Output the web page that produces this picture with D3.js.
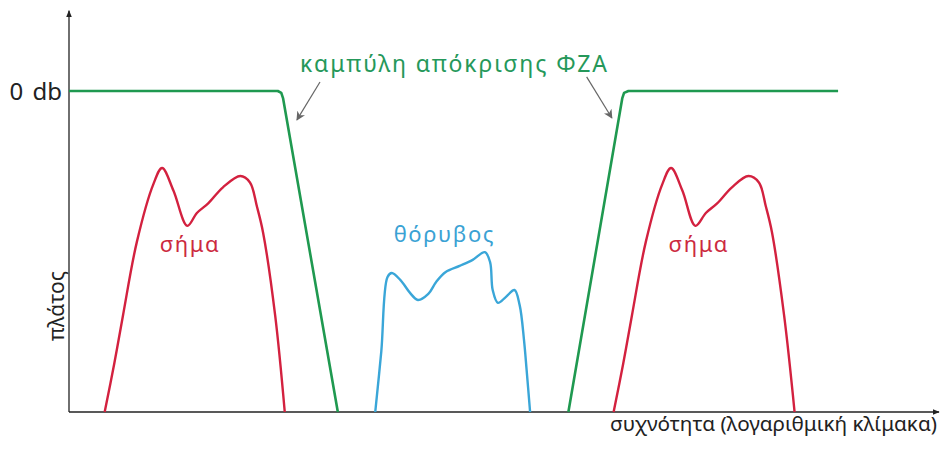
<!DOCTYPE html>
<html>
<head>
<meta charset="utf-8">
<script src="https://cdn.jsdelivr.net/npm/d3@7"></script>
<style>
  body { margin: 0; background: #fff; }
  text { font-family: "Noto Sans", sans-serif; }
</style>
</head>
<body>
<div id="chart"></div>
<script>
// frequency (log scale, arbitrary units 0-100) vs amplitude (1 = 0 db)
var responseLow = [[0, 1], [24.0, 1], [24.4, 0.994], [24.6, 0.978], [30.9, 0]];
var responseHigh = [[57.4, 0], [63.6, 0.978], [63.8, 0.994], [64.3, 1], [88.4, 1]];

var signalLow = [[4.1, 0], [5.2, 0.15], [6.2, 0.30], [7.8, 0.53], [9.7, 0.71], [10.7, 0.76],
  [12.0, 0.69], [13.6, 0.58], [14.7, 0.62], [16.0, 0.65], [17.7, 0.70], [19.7, 0.735],
  [20.8, 0.715], [21.6, 0.64], [22.3, 0.56], [23.7, 0.30], [24.8, 0]];
var signalHigh = [[62.6, 0], [63.7, 0.15], [64.7, 0.30], [66.3, 0.53], [68.2, 0.71], [69.2, 0.76],
  [70.5, 0.69], [72.0, 0.58], [73.2, 0.62], [74.5, 0.65], [76.2, 0.70], [78.1, 0.735],
  [79.3, 0.715], [80.1, 0.64], [80.8, 0.56], [82.2, 0.30], [83.4, 0]];

var noise = [[35.2, 0], [35.9, 0.19], [36.6, 0.42], [37.1, 0.433], [38.1, 0.411], [39.2, 0.371],
  [40.1, 0.349], [41.3, 0.368], [42.2, 0.405], [43.3, 0.436], [44.9, 0.455], [46.4, 0.474],
  [47.8, 0.498], [48.4, 0.467], [48.7, 0.38], [49.3, 0.34], [50.2, 0.358], [51.2, 0.38],
  [51.8, 0.333], [52.3, 0.224], [52.6, 0.131], [53.0, 0]];

var yTicks = [1];
var yTickLabels = ["0 db"];

var width = 941, height = 450;
var margin = { top: 10, right: 2, bottom: 38, left: 69 };

var svg = d3.select("#chart").append("svg")
  .attr("width", width)
  .attr("height", height);

var defs = svg.append("defs");
defs.append("marker").attr("id", "axisArrow")
  .attr("viewBox", "0 0 10 10").attr("refX", 9).attr("refY", 5)
  .attr("markerWidth", 7).attr("markerHeight", 7).attr("markerUnits", "userSpaceOnUse")
  .attr("orient", "auto")
  .append("path").attr("d", "M0,1 L10,5 L0,9 Z").attr("fill", "#222");
defs.append("marker").attr("id", "noteArrow")
  .attr("viewBox", "0 0 10 10").attr("refX", 9).attr("refY", 5)
  .attr("markerWidth", 9).attr("markerHeight", 9).attr("markerUnits", "userSpaceOnUse")
  .attr("orient", "auto")
  .append("path").attr("d", "M0,0 L10,5 L0,10 L3,5 Z").attr("fill", "#666");

var x = d3.scaleLinear().domain([0, 100]).range([margin.left, 939]);
var y = d3.scaleLinear().domain([0, 1]).range([412, 91]);

// axes
var yAxis = d3.axisLeft(y).tickValues(yTicks).tickSize(0).tickPadding(7)
  .tickFormat(function (d, i) { return yTickLabels[i]; });
var gy = svg.append("g").attr("transform", "translate(" + x(0) + ",0)").call(yAxis);
gy.select(".domain").remove();
gy.selectAll("text")
  .attr("font-family", "DejaVu Serif, serif")
  .attr("font-size", 24)
  .attr("word-spacing", 3)
  .attr("fill", "#222")
  .attr("dy", "0.36em");

svg.append("line")
  .attr("x1", x(0)).attr("y1", y(0))
  .attr("x2", x(0)).attr("y2", y(1.25))
  .attr("stroke", "#222").attr("stroke-width", 1.3)
  .attr("marker-end", "url(#axisArrow)");
svg.append("line")
  .attr("x1", x(0)).attr("y1", y(0))
  .attr("x2", x(100)).attr("y2", y(0))
  .attr("stroke", "#222").attr("stroke-width", 1.3)
  .attr("marker-end", "url(#axisArrow)");

// curves
var straight = d3.line().x(function (d) { return x(d[0]); }).y(function (d) { return y(d[1]); });
var smooth = d3.line().x(function (d) { return x(d[0]); }).y(function (d) { return y(d[1]); })
  .curve(d3.curveCatmullRom.alpha(0.5));

var green = "#1f9950", red = "#d3213f", blue = "#3aa6d8";

[responseLow, responseHigh].forEach(function (s) {
  svg.append("path").datum(s).attr("d", straight)
    .attr("fill", "none").attr("stroke", green).attr("stroke-width", 2.6)
    .attr("stroke-linejoin", "round");
});
[signalLow, signalHigh].forEach(function (s) {
  svg.append("path").datum(s).attr("d", smooth)
    .attr("fill", "none").attr("stroke", red).attr("stroke-width", 2.4);
});
svg.append("path").datum(noise).attr("d", smooth)
  .attr("fill", "none").attr("stroke", blue).attr("stroke-width", 2.4);

// annotations
svg.append("line")
  .attr("x1", x(28.85)).attr("y1", y(1.028))
  .attr("x2", x(26.2)).attr("y2", y(0.91))
  .attr("stroke", "#666").attr("stroke-width", 1.2)
  .attr("marker-end", "url(#noteArrow)");
svg.append("line")
  .attr("x1", x(59.5)).attr("y1", y(1.044))
  .attr("x2", x(62.4)).attr("y2", y(0.916))
  .attr("stroke", "#666").attr("stroke-width", 1.2)
  .attr("marker-end", "url(#noteArrow)");

svg.append("text").text("καμπύλη απόκρισης ΦΖΑ")
  .attr("x", x(44.3)).attr("y", y(1.059))
  .attr("text-anchor", "middle").attr("font-size", 23).attr("letter-spacing", 1.9)
  .attr("fill", "#25985a");

svg.append("text").text("σήμα")
  .attr("x", x(13.9)).attr("y", y(0.5))
  .attr("text-anchor", "middle").attr("font-size", 22).attr("letter-spacing", 1.6)
  .attr("fill", "#cc2a40");
svg.append("text").text("σήμα")
  .attr("x", x(72.4)).attr("y", y(0.5))
  .attr("text-anchor", "middle").attr("font-size", 22).attr("letter-spacing", 1.6)
  .attr("fill", "#cc2a40");
svg.append("text").text("θόρυβος")
  .attr("x", x(43.15)).attr("y", y(0.53))
  .attr("text-anchor", "middle").attr("font-size", 22).attr("letter-spacing", 1.6)
  .attr("fill", "#3aa2d4");

svg.append("text").text("πλάτος")
  .attr("transform", "translate(" + (x(0) - 5) + "," + y(0.33) + ") rotate(-90)")
  .attr("text-anchor", "middle").attr("font-size", 21).attr("fill", "#222");

svg.append("text").text("συχνότητα (λογαριθμική κλίμακα)")
  .attr("x", 937).attr("y", 431)
  .attr("text-anchor", "end").attr("font-size", 20.7).attr("fill", "#222");
</script>
</body>
</html>
